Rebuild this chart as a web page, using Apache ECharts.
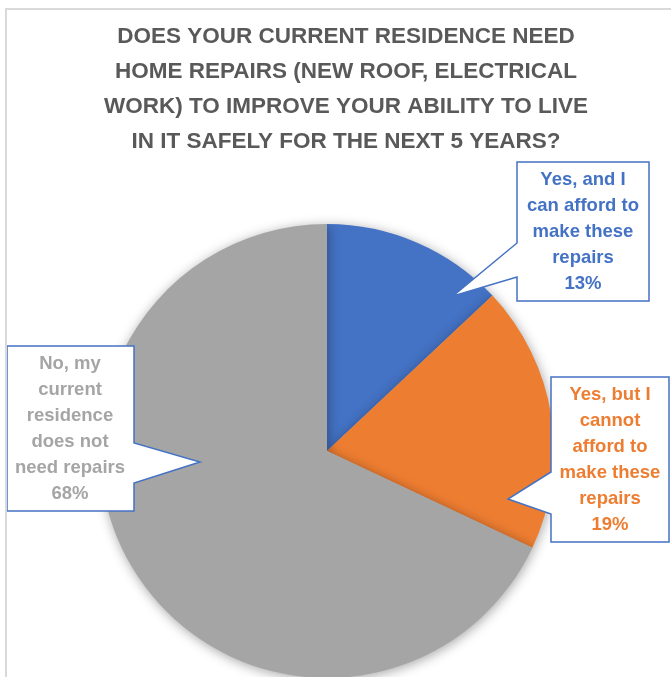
<!DOCTYPE html>
<html>
<head>
<meta charset="utf-8">
<script src="https://cdn.jsdelivr.net/npm/echarts@6/dist/echarts.min.js"></script>
<style>
html,body{margin:0;padding:0;background:#fff;}
#chart{width:671px;height:677px;}
</style>
</head>
<body>
<div id="chart"></div>
<script>
// ---- data ----
const categories = [
  'Yes, and I can afford to make these repairs',
  'Yes, but I cannot afford to make these repairs',
  'No, my current residence does not need repairs'
];
const wrappedLabels = [
  'Yes, and I\ncan afford to\nmake these\nrepairs',
  'Yes, but I\ncannot\nafford to\nmake these\nrepairs',
  'No, my\ncurrent\nresidence\ndoes not\nneed repairs'
];
const values = [13, 19, 68];
const colors = ['#4472C4', '#ED7D31', '#A5A5A5'];
const titleText = 'DOES YOUR CURRENT RESIDENCE NEED\nHOME REPAIRS (NEW ROOF, ELECTRICAL\nWORK) TO IMPROVE YOUR ABILITY TO LIVE\nIN IT SAFELY FOR THE NEXT 5 YEARS?';

// ---- layout (callout boxes) ----
const labelCenters = [[583, 232], [610, 460], [70, 429]];
const bubbles = [
  [[517,162],[649,162],[649,301],[517,301],[517,277],[453,296],[517,243]],
  [[551,377],[669,377],[669,542],[551,542],[551,514],[508,499],[551,472]],
  [[7,346],[134,346],[134,443],[200,462],[134,483],[134,511],[7,511]]
];

const pieData = categories.map((c, i) => ({ name: c, value: values[i], itemStyle: { color: colors[i] } }));
const FONT = '"Liberation Sans", Arial, sans-serif';

const chart = echarts.init(document.getElementById('chart'), null, { renderer: 'canvas' });
chart.setOption({
  backgroundColor: '#ffffff',
  animation: false,
  title: {
    text: titleText,
    left: 341,
    top: 14,
    textAlign: 'center',
    textStyle: {
      fontFamily: FONT, fontWeight: 'bold', fontSize: 22.5, lineHeight: 35, color: '#595959'
    }
  },
  graphic: [
    {
      type: 'rect', z: 100, silent: true,
      shape: { x: 6, y: 9, width: 800, height: 800 },
      style: { fill: 'none', stroke: '#D9D9D9', lineWidth: 2 }
    }
  ].concat(bubbles.map(pts => ({
    type: 'polygon', z: 10, silent: true,
    shape: { points: pts },
    style: { fill: '#ffffff', stroke: '#4472C4', lineWidth: 1.5 }
  }))),
  series: [
    {
      type: 'pie',
      z: 2,
      silent: true,
      center: [327, 451],
      radius: 227,
      startAngle: 90,
      clockwise: true,
      label: { show: false },
      labelLine: { show: false },
      itemStyle: {
        borderWidth: 0,
        shadowBlur: 12,
        shadowOffsetX: 1,
        shadowOffsetY: 2,
        shadowColor: 'rgba(0,0,0,0.35)'
      },
      data: pieData
    },
    {
      type: 'pie',
      z: 20,
      silent: true,
      center: [327, 451],
      radius: 227,
      startAngle: 90,
      clockwise: true,
      itemStyle: { color: 'transparent', borderWidth: 0 },
      labelLine: { show: false },
      label: {
        show: true,
        position: 'inside',
        overflow: 'none',
        fontFamily: FONT,
        fontWeight: 'bold',
        fontSize: 18.5,
        lineHeight: 26,
        align: 'center',
        formatter: p => wrappedLabels[p.dataIndex] + '\n' + values[p.dataIndex] + '%'
      },
      labelLayout: p => ({
        x: labelCenters[p.dataIndex][0],
        y: labelCenters[p.dataIndex][1],
        align: 'center',
        verticalAlign: 'middle'
      }),
      data: categories.map((c, i) => ({
        name: c, value: values[i],
        itemStyle: { color: 'transparent' },
        label: { color: colors[i] }
      }))
    }
  ]
});
</script>
</body>
</html>
